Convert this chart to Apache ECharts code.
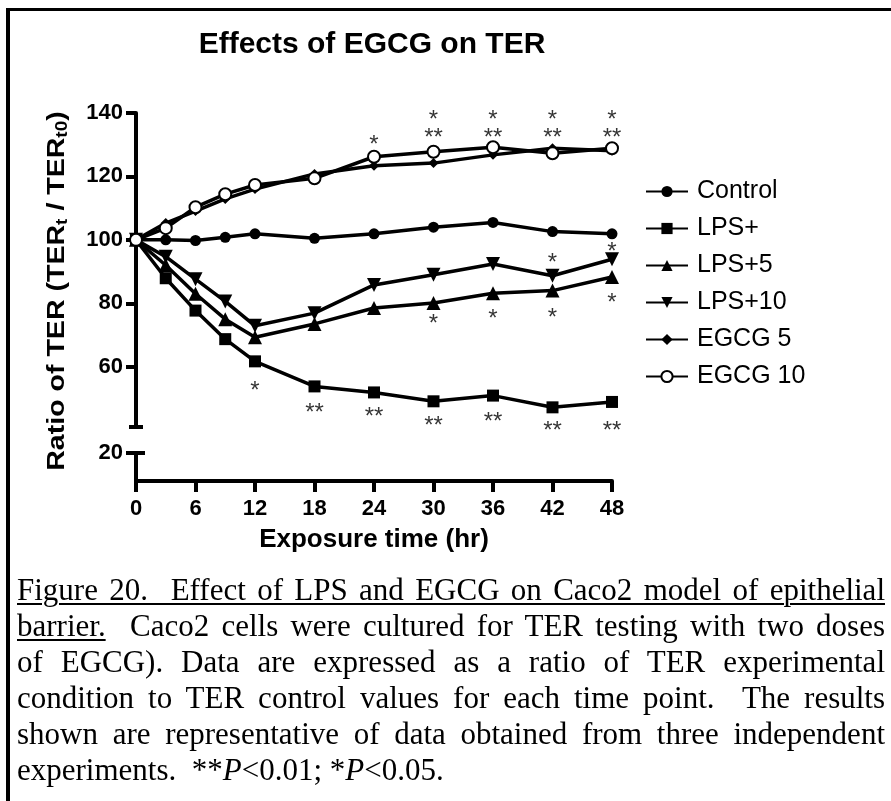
<!DOCTYPE html>
<html>
<head>
<meta charset="utf-8">
<script src="https://cdn.jsdelivr.net/npm/echarts@6/dist/echarts.min.js"></script>
<style>
html,body{margin:0;padding:0;background:#fff;}
#wrap{position:relative;width:891px;height:801px;overflow:hidden;background:#fff;}
#chart{position:absolute;left:0;top:0;width:891px;height:801px;}
#frame{position:absolute;left:6px;top:8px;right:-10px;bottom:-10px;border-top:3px solid #000;border-left:4px solid #000;pointer-events:none;}
#caption{position:absolute;left:17px;width:868px;top:572px;font-family:"Liberation Serif","Times New Roman",serif;font-size:31px;line-height:36px;color:#000;}
#caption .j{text-align:justify;text-align-last:justify;}
#caption .l{text-align:left;}
#caption u{text-decoration:underline;text-decoration-thickness:2px;text-underline-offset:3px;}
</style>
</head>
<body>
<div id="wrap">
  <div id="chart"></div>
  <div id="caption">
    <div class="j"><u>Figure 20.&nbsp; Effect of LPS and EGCG on Caco2 model of epithelial</u></div>
    <div class="j"><u>barrier.</u>&nbsp; Caco2 cells were cultured for TER testing with two doses</div>
    <div class="j">of EGCG). Data are expressed as a ratio of TER experimental</div>
    <div class="j">condition to TER control values for each time point.&nbsp; The results</div>
    <div class="j">shown are representative of data obtained from three independent</div>
    <div class="l">experiments.&nbsp; **<i>P</i>&lt;0.01; *<i>P</i>&lt;0.05.</div>
  </div>
  <div id="frame"></div>
</div>
<script>
// ---- data ----
const times = [0, 3, 6, 9, 12, 18, 24, 30, 36, 42, 48];
const control = [100, 100, 99.8, 100.8, 101.9, 100.5, 101.9, 104, 105.5, 102.6, 101.9];
const lpsPlus = [100, 87.9, 77.7, 68.7, 61.7, 53.8, 51.9, 49.1, 50.9, 47.2, 48.9];
const lps5 = [100, 92, 83, 75, 69.3, 73.5, 78.5, 80.1, 83.2, 84, 88.3];
const lps10 = [100, 94.7, 87.6, 80.6, 72.9, 76.9, 85.8, 89, 92.4, 88.7, 93.9];
const egcg5 = [100, 105.3, 109.1, 112.9, 116, 120.8, 123.4, 124.2, 126.8, 128.9, 128.1];
const egcg10 = [100, 103.7, 110.3, 114.4, 117.3, 119.4, 126.2, 127.8, 129.2, 127.3, 128.9];
const seriesNames = ['Control', 'LPS+', 'LPS+5', 'LPS+10', 'EGCG 5', 'EGCG 10'];
const yTicksUpper = [60, 80, 100, 120, 140];
const yTicksLower = [20];
const upperRange = [41, 140];
const lowerRange = [11, 20];
const xRange = [0, 48];
const xInterval = 6;
// significance marks: x, y, text
const sigX = [24, 30, 30, 36, 36, 42, 42, 48, 48, 42, 48, 30, 36, 42, 48, 12, 18, 24, 30, 36, 42, 48];
const sigY = [131.5, 139.4, 133.7, 139.4, 133.7, 139.4, 133.7, 139.4, 133.7, 94.2, 97.7, 74.8, 76.4, 76.9, 81.6, 53.8, 47, 45.6, 42.8, 44.1, 41.3, 41.2];
const sigText = ['*', '*', '**', '*', '**', '*', '**', '*', '**', '*', '*', '*', '*', '*', '*', '*', '**', '**', '**', '**', '**', '**'];
const titleText = 'Effects of EGCG on TER';
const xName = 'Exposure time (hr)';

// ---- chart ----
const FONT = 'Liberation Sans';
const chart = echarts.init(document.getElementById('chart'), null, {renderer: 'canvas'});

function lineSeries(name, vals, symbol, size, extra) {
  return Object.assign({
    name: name,
    type: 'line',
    xAxisIndex: 0,
    yAxisIndex: 0,
    data: times.map((t, i) => [t, vals[i]]),
    symbol: symbol,
    symbolSize: size,
    lineStyle: {color: '#000', width: 3.5},
    itemStyle: {color: '#000'},
    emphasis: {disabled: true},
    z: 3
  }, extra || {});
}
const downTri = 'path://M0,0L10,0L5,9Z';

const axisLabelStyle = {fontSize: 22, fontWeight: 'bold', color: '#000', fontFamily: FONT};

const option = {
  animation: false,
  backgroundColor: 'transparent',
  textStyle: {fontFamily: FONT},
  grid: [
    {left: 136, width: 476, top: 113, height: 314},
    {left: 136, width: 476, top: 453, height: 28}
  ],
  xAxis: [
    {type: 'value', gridIndex: 0, min: xRange[0], max: xRange[1], interval: xInterval, show: false},
    {
      type: 'value', gridIndex: 1, min: xRange[0], max: xRange[1], interval: xInterval,
      axisLine: {show: true, onZero: false, lineStyle: {color: '#000', width: 4}},
      axisTick: {show: true, length: 11, lineStyle: {color: '#000', width: 4}},
      axisLabel: Object.assign({margin: 17}, axisLabelStyle),
      splitLine: {show: false},
      name: xName, nameLocation: 'middle', nameGap: 46,
      nameTextStyle: {fontSize: 26, fontWeight: 'bold', color: '#000', fontFamily: FONT}
    }
  ],
  yAxis: [
    {
      type: 'value', gridIndex: 0, min: upperRange[0], max: upperRange[1],
      axisLine: {show: true, lineStyle: {color: '#000', width: 4}},
      axisTick: {show: true, length: 10, customValues: yTicksUpper, lineStyle: {color: '#000', width: 4}},
      axisLabel: Object.assign({margin: 13, customValues: yTicksUpper}, axisLabelStyle),
      splitLine: {show: false}
    },
    {
      type: 'value', gridIndex: 1, min: lowerRange[0], max: lowerRange[1],
      axisLine: {show: true, lineStyle: {color: '#000', width: 4}},
      axisTick: {show: true, length: 10, customValues: yTicksLower, lineStyle: {color: '#000', width: 4}},
      axisLabel: Object.assign({margin: 13, customValues: yTicksLower}, axisLabelStyle),
      splitLine: {show: false}
    }
  ],
  legend: {
    orient: 'vertical', left: 640, top: 174,
    itemWidth: 42, itemHeight: 14, itemGap: 12,
    data: seriesNames,
    textStyle: {fontSize: 25, color: '#000', fontFamily: FONT, lineHeight: 25, padding: [0, 0, 0, 4]},
    selectedMode: false
  },
  series: [
    lineSeries(seriesNames[0], control, 'circle', 11),
    lineSeries(seriesNames[1], lpsPlus, 'rect', 12),
    lineSeries(seriesNames[2], lps5, 'triangle', 14),
    lineSeries(seriesNames[3], lps10, downTri, 14),
    lineSeries(seriesNames[4], egcg5, 'diamond', 10),
    lineSeries(seriesNames[5], egcg10, 'emptyCircle', 12, {itemStyle: {color: '#000', borderWidth: 2.5}}),
    {
      name: 'sig', type: 'scatter', xAxisIndex: 0, yAxisIndex: 0,
      data: sigX.map((x, i) => [x, sigY[i], sigText[i]]),
      symbolSize: 1, clip: false, silent: true,
      itemStyle: {color: 'rgba(0,0,0,0)'},
      label: {show: true, position: 'inside', formatter: p => p.data[2], color: '#000',
        fontSize: 24, fontFamily: FONT, offset: [0, 5]},
      z: 5
    }
  ],
  graphic: [
    {id: 'title', type: 'text', x: 372, y: 45, style: {text: titleText, align: 'center', verticalAlign: 'middle',
      font: 'bold 30px "Liberation Sans"', fill: '#000', stroke: 'none', lineWidth: 0}},
    {id: 'yname', type: 'text', x: 57, y: 291, rotation: Math.PI / 2, scaleX: 1.19, style: {
      text: '{m|Ratio of TER (TER}{s|t}{m| / TER}{s|t0}{m|)}',
      align: 'center', verticalAlign: 'middle', fill: '#000', stroke: 'none', lineWidth: 0,
      rich: {
        m: {fontSize: 24, fontWeight: 'bold', fontFamily: FONT, lineHeight: 28, fill: '#000'},
        s: {fontSize: 16, fontWeight: 'bold', fontFamily: FONT, lineHeight: 14, verticalAlign: 'bottom', fill: '#000'}
      }
    }}
  ]
};
chart.setOption(option);

// axis break caps, positioned through the axes' own scales
const pUp = chart.convertToPixel({gridIndex: 0}, [xRange[0], upperRange[0]]);
const pLo = chart.convertToPixel({gridIndex: 1}, [xRange[0], yTicksLower[0]]);
chart.setOption({
  graphic: [
    {id: 'capUpper', type: 'line', shape: {x1: pUp[0] - 7, y1: pUp[1], x2: pUp[0] + 7, y2: pUp[1]}, style: {stroke: '#000', lineWidth: 4}},
    {id: 'capLower', type: 'line', shape: {x1: pLo[0], y1: pLo[1], x2: pLo[0] + 9, y2: pLo[1]}, style: {stroke: '#000', lineWidth: 4}}
  ]
});
</script>
</body>
</html>
